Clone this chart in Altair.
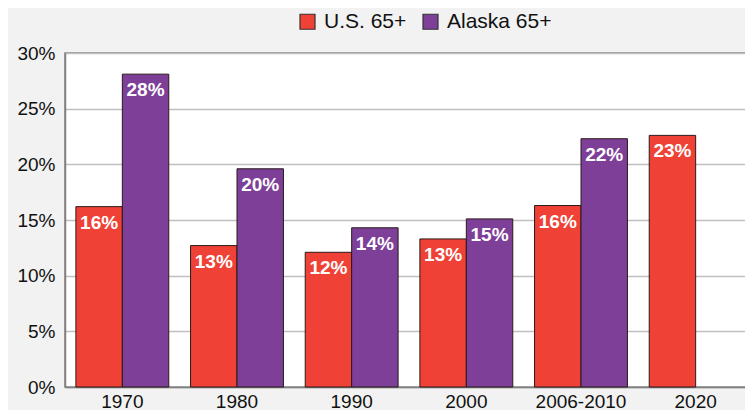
import altair as alt
import pandas as pd

years = ["1970", "1980", "1990", "2000", "2006-2010", "2020"]
us_65 = [16.2, 12.7, 12.1, 13.3, 16.3, 22.6]
ak_65 = [28.1, 19.6, 14.3, 15.1, 22.3, None]
series = ["U.S. 65+", "Alaska 65+"]
colors = ["#ef4136", "#7e3f98"]

rows = []
for i, y in enumerate(years):
    for s, vals in zip(series, [us_65, ak_65]):
        v = vals[i]
        if v is not None:
            rows.append({"year": y, "series": s, "value": v / 100,
                         "label": f"{round(v)}%"})
df = pd.DataFrame(rows)

FONT = "Liberation Sans, Arial"

x = alt.X("year:N", sort=years, title=None,
          scale=alt.Scale(paddingInner=0.19, paddingOuter=0.095),
          axis=alt.Axis(labelAngle=0, labelFontSize=19, labelFont=FONT,
                        labelColor="#111111", ticks=False, labelPadding=20,
                        labelBaseline="alphabetic",
                        domainColor="#808080", domainWidth=1.5))
xo = alt.XOffset("series:N", sort=series,
                 scale=alt.Scale(domain=series, paddingInner=0, paddingOuter=0))
y = alt.Y("value:Q", title=None,
          scale=alt.Scale(domain=[0, 0.30], nice=False),
          axis=alt.Axis(format=".0%", values=[0, .05, .10, .15, .20, .25, .30],
                        labelFontSize=19, labelFont=FONT, labelColor="#111111",
                        ticks=False, labelPadding=10, gridColor="#c0c0c0",
                        gridWidth=1.5, domainColor="#808080", domainWidth=1.5))

bars = alt.Chart(df).mark_bar(stroke="#2a1a1a", strokeWidth=1).encode(
    x=x, xOffset=xo, y=y,
    color=alt.Color("series:N", sort=series,
                    scale=alt.Scale(domain=series, range=colors),
                    legend=alt.Legend(title=None, orient="none", direction="horizontal",
                                      legendX=232, legendY=-42, symbolType="square",
                                      symbolSize=225, symbolStrokeColor="#333333",
                                      symbolStrokeWidth=1.2, labelFontSize=21,
                                      labelFont=FONT, labelColor="#111111",
                                      columnPadding=13, labelOffset=6))
)

labels = alt.Chart(df).mark_text(color="white", fontWeight="bold", fontSize=19,
                                 font=FONT, baseline="top", dy=7).encode(
    x=alt.X("year:N", sort=years), xOffset=alt.XOffset("series:N", sort=series),
    y="value:Q", text="label:N"
)

chart = (bars + labels).properties(
    width=688, height=334,
    background="#f1f2f1",
    padding={"left": 57, "top": 45, "right": -8, "bottom": 23},
    autosize=alt.AutoSizeParams(type="none"),
).configure_view(fill="white", stroke="#808080", strokeWidth=1.5)

chart.save("out.html", embed_options={"renderer": "svg", "actions": False})
